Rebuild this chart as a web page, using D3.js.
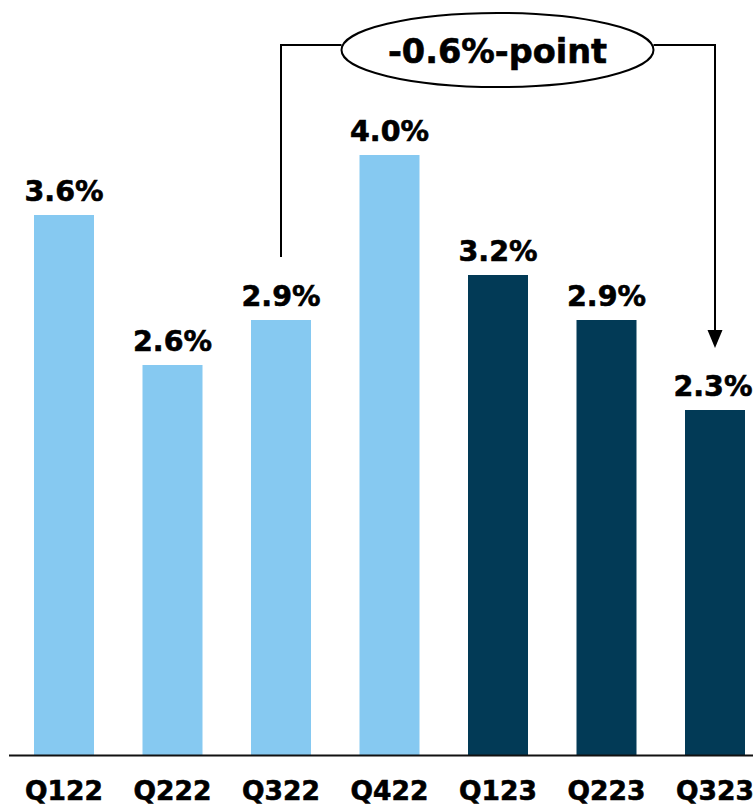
<!DOCTYPE html>
<html>
<head>
<meta charset="utf-8">
<script src="https://cdn.jsdelivr.net/npm/d3@7"></script>
<style>
  html, body { margin: 0; padding: 0; background: #fff; }
  svg { display: block; }
  text { font-family: "DejaVu Sans", Verdana, sans-serif; font-weight: bold; fill: #000; stroke: #000; stroke-width: 0.6px; }
</style>
</head>
<body>
<svg id="chart" width="753" height="809"></svg>
<script>
// Quarterly rates (percent)
const quarters = ["Q122", "Q222", "Q322", "Q422", "Q123", "Q223", "Q323"];
const rates = [3.6, 2.6, 2.9, 4.0, 3.2, 2.9, 2.3];
const years = ["2022", "2022", "2022", "2022", "2023", "2023", "2023"];
const yearColors = { "2022": "#86C9F1", "2023": "#023A56" };
const changeLabel = "-0.6%-point";
const changeFrom = "Q322";
const changeTo = "Q323";

const W = 753;
const svg = d3.select("#chart");

const x = d3.scaleBand()
  .domain(quarters)
  .range([9.75, 769.25])
  .paddingInner(0.447)
  .paddingOuter(0.2235);

const y = d3.scaleLinear().domain([0, 4.0]).range([755, 155]);

const data = quarters.map((q, i) => ({ q, v: rates[i], yr: years[i] }));

// Bars
svg.append("g").selectAll("rect")
  .data(data)
  .join("rect")
  .attr("x", d => x(d.q))
  .attr("y", d => y(d.v))
  .attr("width", x.bandwidth())
  .attr("height", d => y(0) - y(d.v))
  .attr("fill", d => yearColors[d.yr]);

// Value labels (kept inside the right edge)
svg.append("g").selectAll("text")
  .data(data)
  .join("text")
  .attr("x", d => x(d.q) + x.bandwidth() / 2)
  .attr("y", d => y(d.v) - 14)
  .attr("text-anchor", "middle")
  .attr("font-size", 28.5)
  .text(d => d.v.toFixed(1) + "%")
  .each(function () {
    const b = this.getBBox();
    const over = b.x + b.width - (W - 0.5);
    if (over > 0) d3.select(this).attr("x", +d3.select(this).attr("x") - over);
  });

// Baseline axis
const xAxis = d3.axisBottom(x).tickSize(0).tickPadding(26);
const axisG = svg.append("g")
  .attr("transform", `translate(0,${y(0)})`)
  .call(xAxis);
axisG.select(".domain").remove();
axisG.selectAll("text")
  .attr("font-size", 26.5)
  .attr("font-family", "DejaVu Sans, Verdana, sans-serif")
  .attr("font-weight", "bold")
  .attr("fill", "#000")
  .attr("dy", "0.71em");
svg.append("line")
  .attr("x1", 9).attr("x2", W)
  .attr("y1", y(0) + 0.5).attr("y2", y(0) + 0.5)
  .attr("stroke", "#111").attr("stroke-width", 2);

// Change annotation: bracket from Q322 to Q323 with an oval label
const fromX = x(changeFrom) + x.bandwidth() / 2;
const toX = x(changeTo) + x.bandwidth() / 2;
const fromV = rates[quarters.indexOf(changeFrom)];
const toV = rates[quarters.indexOf(changeTo)];
const topY = 45;
const ovalCx = 497.5, ovalCy = 50, ovalRx = 156, ovalRy = 37;

const ann = svg.append("g");
ann.append("path")
  .attr("d", `M${fromX},${y(fromV) - 63} V${topY} H${ovalCx - ovalRx}`)
  .attr("fill", "none").attr("stroke", "#000").attr("stroke-width", 2);
ann.append("path")
  .attr("d", `M${ovalCx + ovalRx},${topY} H${toX} V${y(toV) - 78}`)
  .attr("fill", "none").attr("stroke", "#000").attr("stroke-width", 2);
ann.append("path")
  .attr("d", `M${toX - 7.5},${y(toV) - 80} L${toX + 7.5},${y(toV) - 80} L${toX},${y(toV) - 62} Z`)
  .attr("fill", "#000");
ann.append("ellipse")
  .attr("cx", ovalCx).attr("cy", ovalCy)
  .attr("rx", ovalRx).attr("ry", ovalRy)
  .attr("fill", "#fff").attr("stroke", "#000").attr("stroke-width", 2);
ann.append("text")
  .attr("x", ovalCx).attr("y", ovalCy + 13)
  .attr("text-anchor", "middle")
  .attr("font-size", 33.5)
  .text(changeLabel);
</script>
</body>
</html>
